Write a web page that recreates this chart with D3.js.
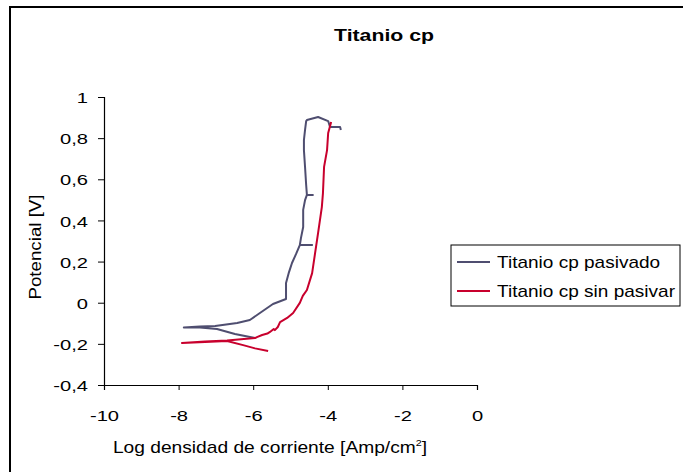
<!DOCTYPE html>
<html><head><meta charset="utf-8">
<script src="https://cdn.jsdelivr.net/npm/d3@7"></script>
<style>
body{margin:0;background:#fff;}
text{font-family:"Liberation Sans",Arial,sans-serif;fill:#000;}
</style></head>
<body><svg id="c" width="683" height="472"></svg>
<script>
const xTicks = [-10, -8, -6, -4, -2, 0];
const yTicks = [-0.4, -0.2, 0, 0.2, 0.4, 0.6, 0.8, 1];
const seriesNames = ["Titanio cp pasivado", "Titanio cp sin pasivar"];
// pasivado: log current, potential
const pasX = [-5.95,-6.49,-6.97,-7.43,-7.86,-7.43,-7.02,-6.43,-6.09,-5.82,-5.47,-5.12,-5.12,-5.04,-4.96,-4.85,-4.75,-4.42,-4.75,-4.72,-4.66,-4.66,-4.61,-4.56,-4.40,-4.56,-4.58,-4.61,-4.64,-4.64,-4.61,-4.58,-4.56,-4.26,-3.99,-3.94,-3.67,-3.65];
const pasY = [-0.172,-0.152,-0.128,-0.121,-0.121,-0.116,-0.113,-0.099,-0.084,-0.050,-0.006,0.018,0.096,0.149,0.193,0.237,0.280,0.280,0.280,0.314,0.368,0.451,0.499,0.524,0.524,0.524,0.572,0.660,0.742,0.791,0.840,0.883,0.888,0.903,0.883,0.854,0.854,0.840];
// sin pasivar
const sinX = [-5.60,-5.95,-6.27,-6.70,-7.29,-7.91,-7.29,-6.70,-5.95,-5.90,-5.76,-5.62,-5.55,-5.45,-5.42,-5.34,-5.28,-5.09,-4.93,-4.75,-4.67,-4.56,-4.42,-4.34,-4.26,-4.16,-4.13,-4.10,-4.02,-3.99,-3.91];
const sinY = [-0.235,-0.222,-0.206,-0.186,-0.191,-0.196,-0.189,-0.184,-0.172,-0.167,-0.157,-0.150,-0.142,-0.128,-0.133,-0.118,-0.094,-0.074,-0.050,-0.001,0.033,0.062,0.144,0.242,0.339,0.465,0.533,0.660,0.742,0.825,0.878];
const colors = ["#4f4e70", "#c8002d"];

const svg = d3.select("#c");
svg.append("rect").attr("x",10).attr("y",7).attr("width",700).attr("height",500)
  .attr("fill","none").attr("stroke","#000").attr("stroke-width",2);

const x = d3.scaleLinear().domain([-10,0]).range([104,477]);
const y = d3.scaleLinear().domain([-0.4,1]).range([385,97]);
const fmt = d => d3.format(".1f")(d).replace(".",",").replace(/,0$/,"").replace("−","-");

const gx = svg.append("g").attr("transform","translate(0,385)")
  .call(d3.axisBottom(x).tickValues(xTicks).tickSize(5).tickFormat(d=>String(d)));
const gy = svg.append("g").attr("transform","translate(104,0)")
  .call(d3.axisLeft(y).tickValues(yTicks).tickSize(6).tickFormat(fmt));
[gx,gy].forEach(g=>{
  g.select(".domain").attr("stroke","#000").attr("stroke-width",1.2);
  g.selectAll(".tick line").attr("stroke","#000");
  g.selectAll("text").attr("font-size",15.5).attr("font-family","Liberation Sans, Arial, sans-serif").attr("fill","#000");
});
gx.selectAll("text").attr("dy",null).attr("y",0).attr("transform",`translate(0,35.5) scale(1.3,1)`);
gy.selectAll("text").attr("x",0).attr("dy","0.36em").attr("transform",`translate(-16,0) scale(1.3,1)`);

const line = d3.line().x(d=>x(d[0])).y(d=>y(d[1]));
const series = [d3.zip(pasX,pasY), d3.zip(sinX,sinY)];
[0,1].forEach(i=>{
  svg.append("path").datum(series[i]).attr("d",line).attr("fill","none")
    .attr("stroke",colors[i]).attr("stroke-width",2).attr("stroke-linejoin","round");
});

svg.append("text").attr("transform",`translate(384,41) scale(1.25,1)`).attr("text-anchor","middle")
  .attr("font-size",17).attr("font-weight","bold").text("Titanio cp");

const xt = svg.append("text").attr("transform",`translate(270,453) scale(1.2,1)`).attr("text-anchor","middle").attr("font-size",16);
xt.append("tspan").text("Log densidad de corriente [Amp/cm");
xt.append("tspan").attr("font-size",9).attr("dy",-7).text("2");
xt.append("tspan").attr("dy",7).text("]");

svg.append("text").attr("transform",`translate(41,247) rotate(-90) scale(1.17,1)`).attr("text-anchor","middle")
  .attr("font-size",16).text("Potencial [V]");

const lg = svg.append("g");
lg.append("rect").attr("x",451).attr("y",245).attr("width",229).attr("height",61)
  .attr("fill","#fff").attr("stroke","#000").attr("stroke-width",1);
seriesNames.forEach((n,i)=>{
  const yy = 262 + i*29;
  lg.append("line").attr("x1",457).attr("x2",490).attr("y1",yy).attr("y2",yy)
    .attr("stroke",colors[i]).attr("stroke-width",2);
  lg.append("text").attr("transform",`translate(497,${yy+6}) scale(1.12,1)`).attr("font-size",17).text(n);
});
</script></body></html>
